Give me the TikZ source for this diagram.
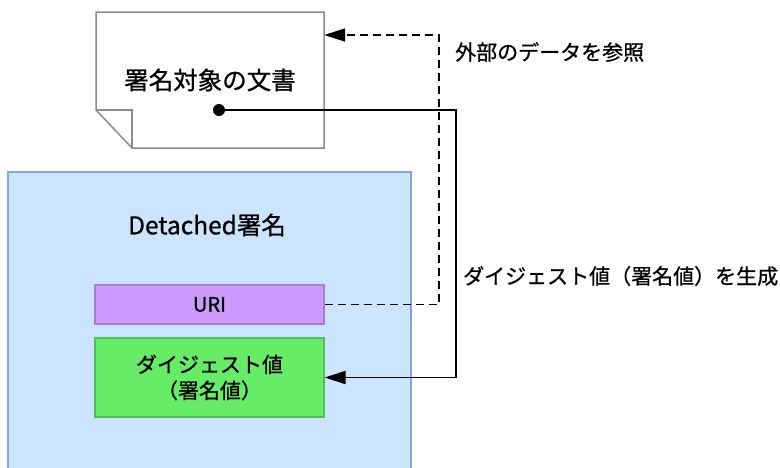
\documentclass[tikz,border=0pt]{standalone}
\usepackage{fontspec}
\setmainfont{Noto Sans CJK JP}[FakeBold=0.8]
\usetikzlibrary{arrows.meta}
\definecolor{sigfill}{RGB}{204,229,255}
\definecolor{sigline}{RGB}{126,166,224}
\definecolor{urifill}{RGB}{204,153,255}
\definecolor{uriline}{RGB}{168,128,205}
\definecolor{digfill}{RGB}{102,236,102}
\definecolor{digline}{RGB}{82,190,82}
\definecolor{docline}{RGB}{140,140,140}
\begin{document}
\begin{tikzpicture}[x=1pt,y=-1pt,
		box/.style={draw, line width=1.2pt, inner sep=0pt, minimum width=229pt},
		conn/.style={line width=1.9pt, -{Triangle[length=21pt,width=13pt]}}]
		\useasboundingbox (0,0) rectangle (780,467);
		
		% Documento externo
		\draw[docline, line width=1.5pt, fill=white] (96,12) -- (324,12) -- (324,148) -- (132,148) -- (96,110) -- cycle;
		\draw[docline, line width=1.5pt] (96,110) -- (132,110) -- (132,148);	% Dobra
		\node[inner sep=0pt, minimum width=228pt, minimum height=136pt, font=\fontsize{24.5}{28}\selectfont] (doc) at (210,80) {署名対象の文書};
		\node[circle, fill, inner sep=0pt, minimum size=12pt] (dot) at (219,110) {};
		
		% Assinatura
		\node[box, draw=sigline, fill=sigfill, minimum width=403pt, minimum height=306pt] (sig) at (209.5,325) {};
		\node[font=\fontsize{24.5}{28}\selectfont] (sigt) at (207,225) {Detached署名};
		\node[box, draw=uriline, fill=urifill, minimum height=39pt, font=\fontsize{20}{24}\selectfont] (uri) at (209.5,304.5) {URI};
		\node[box, draw=digline, fill=digfill, minimum height=79pt, align=center, font=\fontsize{21}{26}\selectfont] (dig) at (209.5,377.5) {ダイジェスト値\\（署名値）};
		
		% Setas
		\coordinate (bref) at (439,35);
		\coordinate (bgen) at (456,110);
		\draw[conn, dash pattern=on 8pt off 5pt] (uri.east) -| (bref) -- (doc.east |- bref);
		\draw[conn] (dot) -- (bgen) |- (dig.east);
		
		% Rótulos
		\node[anchor=west, inner sep=0pt, font=\fontsize{21}{24}\selectfont] (lref) at (455,52) {外部のデータを参照};
		\node[anchor=west, inner sep=0pt, font=\fontsize{21}{24}\selectfont] (lgen) at (463,276) {ダイジェスト値（署名値）を生成};
	\end{tikzpicture}
\end{document}
